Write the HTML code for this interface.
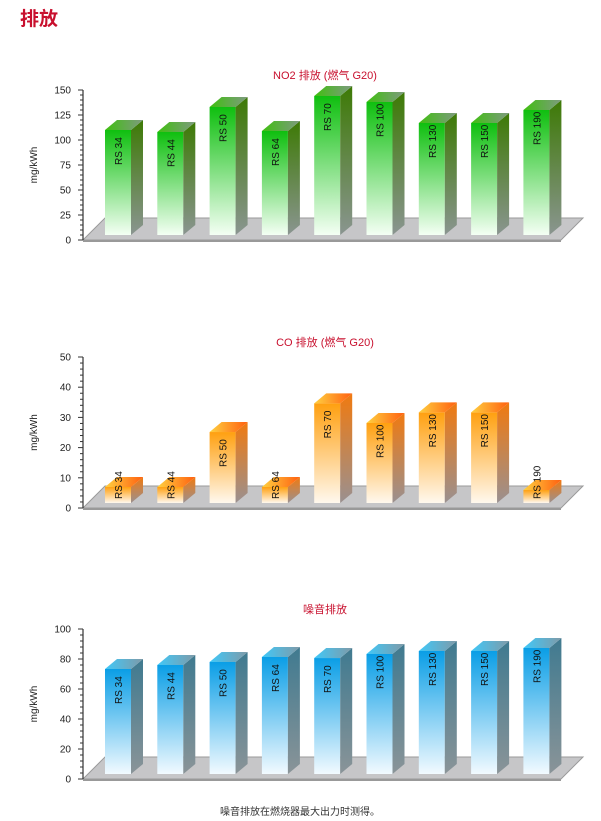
<!DOCTYPE html>
<html><head><meta charset="utf-8">
<style>
body{margin:0;background:#fff;width:601px;height:821px;overflow:hidden;font-family:"Liberation Sans","Noto Sans CJK SC",sans-serif;}
svg{display:block}
</style></head>
<body>
<svg id="s" width="601" height="821" viewBox="0 0 601 821" xmlns="http://www.w3.org/2000/svg">
<defs>
<linearGradient id="gF" x1="0" y1="0" x2="0" y2="1"><stop offset="0" stop-color="#0fbf0f"/><stop offset="1" stop-color="#f4fff4"/></linearGradient>
<linearGradient id="gS" x1="0" y1="0" x2="0" y2="1"><stop offset="0" stop-color="#3d7a05"/><stop offset="1" stop-color="#8a9590"/></linearGradient>
<linearGradient id="gT" x1="0" y1="0" x2="1" y2="0"><stop offset="0" stop-color="#3fbf10"/><stop offset="1" stop-color="#7f9a80"/></linearGradient>
<linearGradient id="oF" x1="0" y1="0" x2="0" y2="1"><stop offset="0" stop-color="#ffa010"/><stop offset="1" stop-color="#fff8ee"/></linearGradient>
<linearGradient id="oS" x1="0" y1="0" x2="0" y2="1"><stop offset="0" stop-color="#f07a10"/><stop offset="1" stop-color="#9a9090"/></linearGradient>
<linearGradient id="oT" x1="0" y1="0" x2="1" y2="0"><stop offset="0" stop-color="#ffd040"/><stop offset="1" stop-color="#ff6010"/></linearGradient>
<linearGradient id="bF" x1="0" y1="0" x2="0" y2="1"><stop offset="0" stop-color="#0a9ee6"/><stop offset="1" stop-color="#f2faff"/></linearGradient>
<linearGradient id="bS" x1="0" y1="0" x2="0" y2="1"><stop offset="0" stop-color="#3f7a90"/><stop offset="1" stop-color="#8a9498"/></linearGradient>
<linearGradient id="bT" x1="0" y1="0" x2="1" y2="0"><stop offset="0" stop-color="#40c8f8"/><stop offset="1" stop-color="#7f9aa8"/></linearGradient>
</defs>
<text x="20" y="25" font-size="19" font-weight="bold" fill="#c8102e">排放</text>
<text x="300" y="815" font-size="10" fill="#333" text-anchor="middle">噪音排放在燃烧器最大出力时测得。</text>
</svg>
<script>
const categories=["RS 34","RS 44","RS 50","RS 64","RS 70","RS 100","RS 130","RS 150","RS 190"];
const no2Values=[105,103,128,104,139,133,112,112,125];
const coValues=[5.3,5.3,23.5,5.3,33,26.5,30,30,4.3];
const noiseValues=[70,72.7,74.7,78,77.3,80,82,82,84];
const no2Ticks=[0,25,50,75,100,125,150];
const coTicks=[0,10,20,30,40,50];
const noiseTicks=[0,20,40,60,80,100];

const NS="http://www.w3.org/2000/svg";
const svg=document.getElementById('s');
function mk(t,a,p){const e=document.createElementNS(NS,t);for(const k in a)e.setAttribute(k,a[k]);(p||svg).appendChild(e);return e;}

function chart(cfg){
  const g=mk('g',{});
  
  
  const ax=83, y0=cfg.y0, max=cfg.ticks[cfg.ticks.length-1], ppu=cfg.h/max;
  const yS=v=>y0-v*ppu;
  const t=mk('text',{x:325,y:cfg.titleY,'font-size':11,fill:'#c8102e','text-anchor':'middle'},g);
  t.textContent=cfg.title;
  
  
  // floor
  const fl=mk('polygon',{points:`${ax},${y0} ${ax+22},${y0-22} ${ax+500},${y0-22} ${ax+478},${y0}`,fill:'#c6c6c8',stroke:'#9a9a9a','stroke-width':1},g);
  
  
  mk('line',{x1:ax,y1:y0+1,x2:ax+478,y2:y0+1,stroke:'#999','stroke-width':2},g);
  // axis
  const axis=mk('g',{},g);
  
  
  mk('line',{x1:ax,y1:yS(max),x2:ax,y2:y0,stroke:'#333','stroke-width':1.2},axis);
  const minorN=5;
  for(let i=0;i<cfg.ticks.length;i++){
    const v=cfg.ticks[i],y=yS(v);
    mk('line',{x1:ax-5,y1:y,x2:ax,y2:y,stroke:'#333'},axis);
    const tx=mk('text',{x:ax-12,y:y+3.5,'font-size':10,'text-anchor':'end',fill:'#222'},axis);
    tx.textContent=v;
    if(i<cfg.ticks.length-1){const step=(cfg.ticks[i+1]-v)/minorN;
      for(let k=1;k<minorN;k++){const yy=yS(v+k*step);mk('line',{x1:ax-3,y1:yy,x2:ax,y2:yy,stroke:'#333'},axis);}}
  }
  const yl=mk('text',{transform:`translate(37,${yS(max/2)}) rotate(-90)`,'font-size':10,'text-anchor':'middle',fill:'#222'},g);
  yl.textContent='mg/kWh';
  
  
  const base=y0-5, w=26, dx=12, dy=10;
  cfg.values.forEach((v,i)=>{
    const x=105+i*52.3, top=base-v*ppu;
    const b=mk('g',{},g);
    
    
    mk('rect',{x:x,y:top,width:w,height:base-top,fill:`url(#${cfg.c}F)`},b);
    mk('polygon',{points:`${x+w},${top} ${x+w+dx},${top-dy} ${x+w+dx},${base-dy} ${x+w},${base}`,fill:`url(#${cfg.c}S)`},b);
    mk('polygon',{points:`${x},${top} ${x+dx},${top-dy} ${x+w+dx},${top-dy} ${x+w},${top}`,fill:`url(#${cfg.c}T)`},b);
    const lbl=mk('text',{transform:`translate(${x+w/2+4},${Math.min(base-4,top+35)}) rotate(-90)`,'font-size':10,fill:'#111'},b);
    lbl.textContent=categories[i];
  });
}
chart({name:'no2-chart',title:'NO2 排放 (燃气 G20)',titleY:79,y0:240,h:150,ticks:no2Ticks,values:no2Values,c:'g'});
chart({name:'co-chart',title:'CO 排放 (燃气 G20)',titleY:346,y0:508,h:151,ticks:coTicks,values:coValues,c:'o'});
chart({name:'noise-chart',title:'噪音排放',titleY:613,y0:779,h:150,ticks:noiseTicks,values:noiseValues,c:'b'});
</script>
</body></html>
